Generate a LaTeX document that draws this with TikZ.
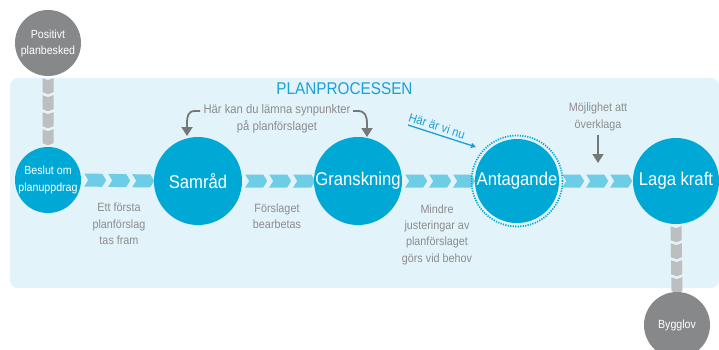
\documentclass[tikz,border=0pt]{standalone}
\usepackage{fontspec}
\setmainfont{Liberation Sans}[FakeStretch=0.9]
\usetikzlibrary{arrows.meta,decorations.markings,calc}
\pgfdeclarelayer{bg}
\pgfsetlayers{bg,main}
\definecolor{panel}{HTML}{E3F3FA}
\definecolor{cblue}{HTML}{00A8D5}
\definecolor{chevc}{HTML}{6DCDE6}
\definecolor{cgray}{HTML}{87888A}
\definecolor{conng}{HTML}{BDBEBF}
\definecolor{tgray}{HTML}{8C8C8C}
\definecolor{agray}{HTML}{777777}
\definecolor{tblue}{HTML}{1AA0D8}
\newcommand{\hchevshape}{\fill[chevc] (0pt,-6.5pt) -- (18pt,-6.5pt) -- (22pt,0pt) -- (18pt,6.5pt) -- (0pt,6.5pt) -- (4pt,0pt) -- cycle;}
\newcommand{\vchevshape}{\fill[conng] (0pt,-5.5pt) -- (14pt,-5.5pt) -- (16pt,0pt) -- (14pt,5.5pt) -- (0pt,5.5pt) -- (2pt,0pt) -- cycle;}
\tikzset{
  bigc/.style={circle, fill=cblue, text=white, inner sep=0pt, minimum size=88pt, font=\fontsize{18.5}{20}\selectfont},
  smallc/.style={circle, fill=cblue, text=white, inner sep=0pt, minimum size=66pt, align=center, font=\fontsize{11.8}{17}\selectfont},
  grayc/.style={circle, fill=cgray, text=white, inner sep=0pt, minimum size=66pt, align=center, font=\fontsize{11.8}{16}\selectfont},
  note/.style={text=tgray, align=center, font=\fontsize{12}{16.3}\selectfont},
  hchev/.style={decoration={markings,
      mark=at position 3pt with {\hchevshape},
      mark=at position 27pt with {\hchevshape},
      mark=at position 51pt with {\hchevshape}}, postaction={decorate}},
  vchev/.style={decoration={markings,
      mark=at position 2pt with {\vchevshape},
      mark=at position 19pt with {\vchevshape},
      mark=at position 36pt with {\vchevshape},
      mark=at position 53pt with {\vchevshape}}, postaction={decorate}},
  garr/.style={draw=agray, line width=1.8pt, -{Triangle[width=11pt,length=9pt]}},
  barr/.style={draw=tblue, line width=1.3pt, -{Triangle[width=5pt,length=5pt]}},
}
\begin{document}
\begin{tikzpicture}[x=1pt,y=-1pt]
\useasboundingbox (0,0) rectangle (719,349);
% nodes
\node[grayc] (pos) at (48,43) {Positivt\\planbesked};
\node[smallc] (beslut) at (48,180) {Beslut om\\planuppdrag};
\node[bigc] (samrad) at (198,181) {Samråd};
\node[bigc] (gransk) at (358,181) {Granskning};
\node[bigc, minimum size=84pt] (ant) at (517,181) {Antagande};
\node[bigc, minimum size=86pt] (laga) at (676,181) {Laga kraft};
\node[grayc] (bygg) at (677,325) {Bygglov};
\draw[cblue, line width=1.7pt, dash pattern=on 1.2pt off 1.3pt] (ant.center) circle[radius=45.5pt];
% texts
\node[text=tblue, font=\fontsize{17}{19}\selectfont] (title) at (344.5,88.5) {PLANPROCESSEN};
\node[note, font=\fontsize{12.5}{17}\selectfont] (hk) at (277,118.5) {Här kan du lämna synpunkter\\på planförslaget};
\node[note] (ett) at (119,224) {Ett första\\planförslag\\tas fram};
\node[note] (forsl) at (277,216) {Förslaget\\bearbetas};
\node[note] (mindre) at (437,234.5) {Mindre\\justeringar av\\planförslaget\\görs vid behov};
\node[note] (moj) at (598,117) {Möjlighet att\\överklaga};
\node[text=tblue, font=\fontsize{12.5}{14}\selectfont, rotate=-18] (nu) at (437,126) {Här är vi nu};
% arrows
\coordinate (hkL) at (200,111);
\coordinate (hkLt) at (187,136);
\coordinate (hkR) at (353,111);
\coordinate (hkRt) at (367,137);
\draw[garr] (hkL) -- (195,111) .. controls (188,111) and (187,116) .. (187,124) -- (hkLt);
\draw[garr] (hkR) -- (358,111) .. controls (365,111) and (367,116) .. (367,124) -- (hkRt);
\coordinate (nuA) at (408,125);
\coordinate (nuB) at (476,147);
\draw[barr] (nuA) -- (nuB);
\coordinate (mojB) at (598,163);
\draw[garr] (moj.south) ++(0,1) -- (mojB);
% background
\begin{pgfonlayer}{bg}
\fill[panel, rounded corners=8pt] (10,78) rectangle (719,288);
\path[hchev] (beslut.east) -- (samrad.west);
\path[hchev] (samrad.east) -- (gransk.west);
\path[hchev] (gransk.east) -- (ant.west);
\path[hchev] (ant.east) -- (laga.west);
\path[vchev] (pos.south) -- (beslut.north);
\path[vchev] (laga.south) -- (bygg.north);
\end{pgfonlayer}
\end{tikzpicture}
\end{document}
